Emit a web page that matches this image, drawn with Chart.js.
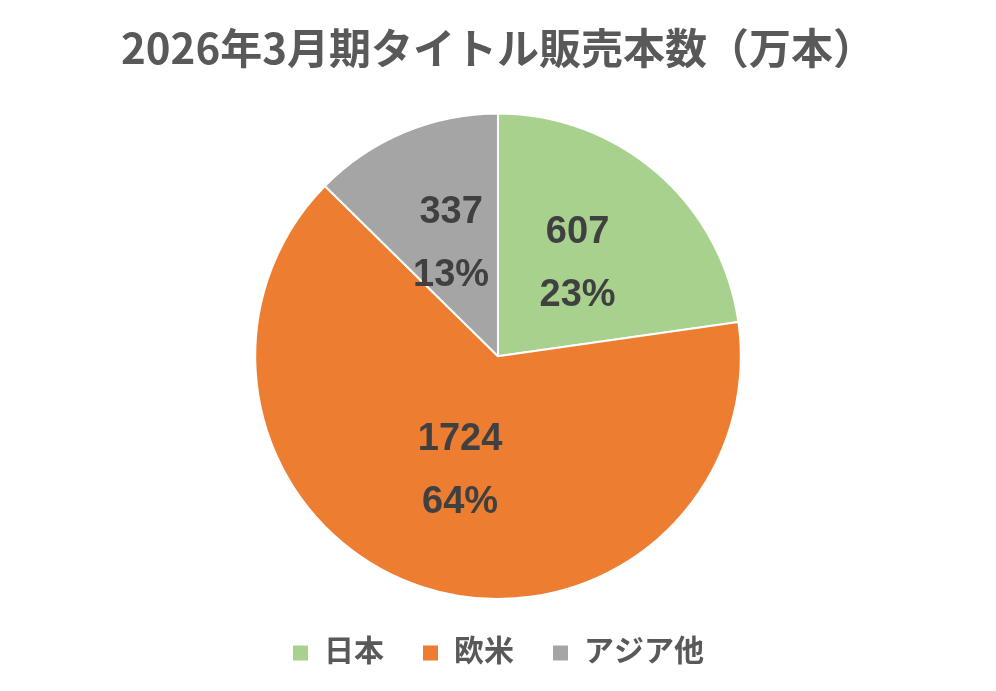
<!DOCTYPE html>
<html>
<head>
<meta charset="utf-8">
<script src="https://cdn.jsdelivr.net/npm/chart.js@4"></script>
<style>
  html, body { margin: 0; padding: 0; background: #ffffff; }
  #wrap { width: 996px; height: 691px; }
</style>
</head>
<body>
<div id="wrap"><canvas id="myPieChart" width="996" height="691"></canvas></div>
<script>
    const titleText = '2026年3月期タイトル販売本数（万本）';
    const regions = ['日本', '欧米', 'アジア他'];
    const sales = [607, 1724, 337];
    const percentLabels = ['23%', '64%', '13%'];
    const sliceColors = ['#A9D18E', '#ED7D31', '#A5A5A5'];

    const jpFont = '"Liberation Sans", "Noto Sans CJK JP", sans-serif';

    // valor + percentual dentro de cada fatia
    const sliceLabels = {
        id: 'sliceLabels',
        afterDatasetsDraw: function (chart) {
            const ctx = chart.ctx;
            const meta = chart.getDatasetMeta(0);
            ctx.save();
            ctx.fillStyle = '#404040';
            ctx.font = 'bold 38px ' + jpFont;
            ctx.textAlign = 'center';
            ctx.textBaseline = 'middle';
            meta.data.forEach(function (arc, i) {
                const mid = (arc.startAngle + arc.endAngle) / 2;
                const r = arc.outerRadius * 0.5;
                const x = arc.x + Math.cos(mid) * r;
                const y = arc.y + Math.sin(mid) * r;
                ctx.fillText(String(sales[i]), x, y - 32);
                ctx.fillText(percentLabels[i], x, y + 31);
            });
            ctx.restore();
        }
    };

    const ctx = document.getElementById('myPieChart').getContext('2d');
    const myPieChartInstance = new Chart(ctx, {
        type: 'pie',
        data: {
            labels: regions,
            datasets: [{
                data: sales,
                backgroundColor: sliceColors,
                borderColor: '#ffffff',
                borderWidth: 2
            }]
        },
        options: {
            responsive: false,
            animation: false,
            devicePixelRatio: 1,
            layout: { padding: { top: 0, bottom: 13, left: 0, right: 0 } },
            plugins: {
                tooltip: { enabled: false },
                title: {
                    display: true,
                    text: titleText,
                    color: '#595959',
                    font: { family: '"Noto Sans CJK JP", sans-serif', size: 42, weight: 'bold' },
                    padding: { top: 23, bottom: 39 }
                },
                legend: {
                    position: 'bottom',
                    labels: {
                        color: '#595959',
                        boxWidth: 17,
                        boxHeight: 17,
                        padding: 38,
                        font: { family: jpFont, size: 30, weight: 'bold' }
                    }
                }
            }
        },
        plugins: [sliceLabels]
    });
</script>
</body>
</html>
